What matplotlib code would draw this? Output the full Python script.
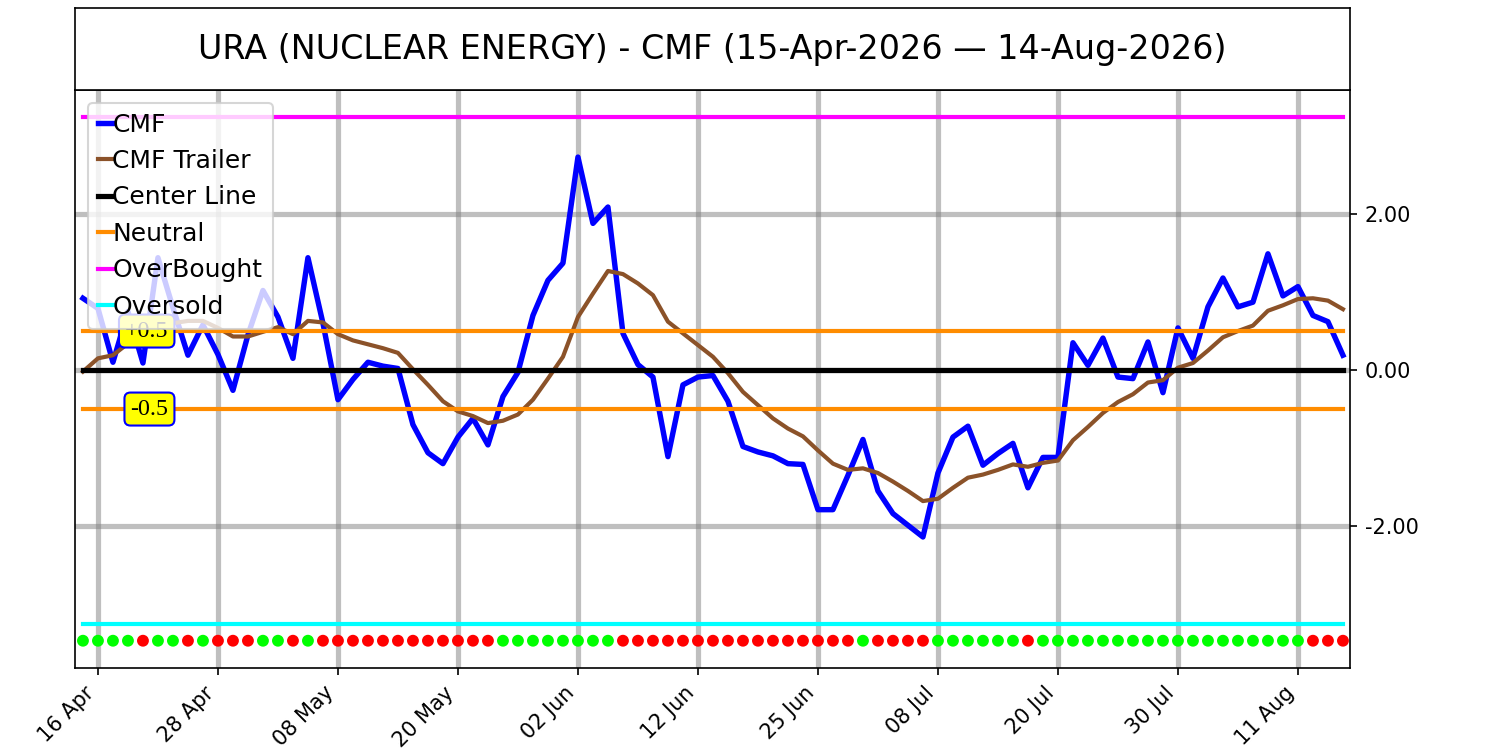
import numpy as np
import pandas as pd
import matplotlib
matplotlib.use("Agg")
import matplotlib.pyplot as plt

# trading days 15-Apr-2026 .. 14-Aug-2026 (US market holidays removed)
holidays = ["2026-05-25", "2026-06-19", "2026-07-03"]
dates = pd.bdate_range("2026-04-15", "2026-08-14")
dates = dates[~dates.isin(pd.to_datetime(holidays))]

cmf = [0.92, 0.79, 0.10, 0.75, 0.09, 1.44, 0.80, 0.19, 0.58, 0.20,
       -0.26, 0.45, 1.02, 0.68, 0.15, 1.44, 0.60, -0.38, -0.12, 0.10,
       0.05, 0.02, -0.70, -1.06, -1.20, -0.86, -0.62, -0.96, -0.34, -0.03,
       0.70, 1.15, 1.37, 2.73, 1.88, 2.09, 0.47, 0.07, -0.09, -1.11,
       -0.19, -0.09, -0.07, -0.40, -0.98, -1.05, -1.10, -1.20, -1.21, -1.79,
       -1.79, -1.35, -0.89, -1.55, -1.84, -1.99, -2.14, -1.32, -0.86, -0.72,
       -1.22, -1.07, -0.94, -1.51, -1.12, -1.12, 0.35, 0.06, 0.41, -0.09,
       -0.11, 0.36, -0.29, 0.54, 0.15, 0.81, 1.18, 0.81, 0.87, 1.49,
       0.95, 1.07, 0.70, 0.62, 0.19]

trailer = [-0.02, 0.15, 0.19, 0.34, 0.48, 0.55, 0.60, 0.63, 0.63, 0.54,
           0.43, 0.43, 0.49, 0.55, 0.46, 0.63, 0.61, 0.46, 0.38, 0.33,
           0.28, 0.22, 0.01, -0.19, -0.40, -0.53, -0.59, -0.68, -0.65, -0.57,
           -0.38, -0.11, 0.17, 0.68, 0.98, 1.27, 1.23, 1.11, 0.96, 0.62,
           0.47, 0.32, 0.17, -0.04, -0.28, -0.45, -0.62, -0.75, -0.85, -1.03,
           -1.20, -1.28, -1.26, -1.32, -1.43, -1.55, -1.68, -1.65, -1.51, -1.38,
           -1.34, -1.28, -1.21, -1.24, -1.19, -1.16, -0.90, -0.73, -0.55, -0.41,
           -0.31, -0.16, -0.13, 0.03, 0.09, 0.25, 0.42, 0.50, 0.57, 0.76,
           0.83, 0.91, 0.92, 0.89, 0.78]

# G = green dot, R = red dot
signal = ("GGGGRGGRGRRRGGRG" + "R" * 12 + "G" * 8 + "R" * 16 + "G" + "R" * 4
          + "G" * 6 + "R" + "G" * 18 + "R" * 3)

center = 0.0
neutral = 0.5
overbought = 3.25
oversold = -3.25
dot_level = -3.47

x = np.arange(len(dates))
n = len(x)

fig = plt.figure(figsize=(10, 5), dpi=150)
ax = fig.add_axes([0.05, 0.1093, 0.85, 0.7707])

ax.plot(x, cmf, color="blue", lw=2.6, label="CMF")
ax.plot(x, trailer, color="#8B5229", lw=2, label="CMF Trailer")
ax.plot(x, [center] * n, color="black", lw=2.5, label="Center Line")
ax.plot(x, [neutral] * n, color="#FF8C00", lw=2, label="Neutral")
ax.plot(x, [-neutral] * n, color="#FF8C00", lw=2)
ax.plot(x, [overbought] * n, color="magenta", lw=2, label="OverBought")
ax.plot(x, [oversold] * n, color="cyan", lw=2, label="Oversold")

dot_colors = ["#00FF00" if s == "G" else "#FF0000" for s in signal]
ax.scatter(x, [dot_level] * n, c=dot_colors, s=22, zorder=3)

box = dict(boxstyle="round,pad=0.25", fc="yellow", ec="blue", lw=1)
ax.text(5.7, neutral, "+0.5", ha="right", va="center", fontsize=11.5,
        family="Liberation Serif", bbox=box)
ax.text(5.7, -neutral, "-0.5", ha="right", va="center", fontsize=11.5,
        family="Liberation Serif", bbox=box)

ax.set_xlim(-0.53, 84.47)
ax.set_ylim(-3.82, 3.59)

tick_idx = x[1::8]
ax.set_xticks(tick_idx)
ax.set_xticklabels([dates[i].strftime("%d %b") for i in tick_idx],
                   rotation=45, ha="right")
ax.set_yticks([-2, 0, 2])
ax.set_yticklabels(["-2.00", "0.00", "2.00"])
ax.yaxis.tick_right()
ax.grid(True, color="gray", alpha=0.5, lw=2.5)
ax.set_axisbelow(True)

ax.legend(loc="upper left", fontsize=12, handlelength=0.6, handletextpad=0.0)

# title box above the chart
tax = fig.add_axes([0.05, 0.88, 0.85, 0.109])
tax.set_xticks([])
tax.set_yticks([])
tax.text(0.5, 0.5, "URA (NUCLEAR ENERGY) - CMF (15-Apr-2026 \u2014 14-Aug-2026)",
         ha="center", va="center", fontsize=16, transform=tax.transAxes)

plt.savefig("out.png")
